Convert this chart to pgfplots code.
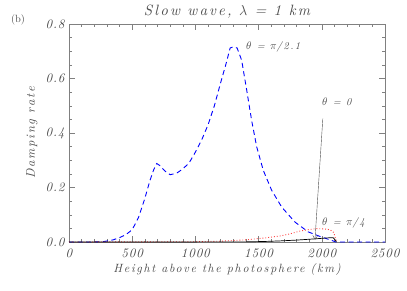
\documentclass[border=0pt]{standalone}
\usepackage{fontspec}
\usepackage{pgfplots}
\pgfplotsset{compat=1.18}
\usetikzlibrary{arrows.meta}
\newfontfamily\idl{lmroman10}[Extension=.otf, UprightFont=*-regular, ItalicFont=*-italic, LetterSpace=14]
\newfontfamily\idlt{lmroman10}[Extension=.otf, UprightFont=*-regular, ItalicFont=*-italic, LetterSpace=6]
\newfontfamily\idlb{lmroman10}[Extension=.otf, UprightFont=*-regular, ItalicFont=*-italic]
\definecolor{txt}{gray}{0.3}
\definecolor{axc}{gray}{0.5}
\begin{document}
\begin{tikzpicture}
\useasboundingbox (-69bp,-49bp) rectangle (338bp,242bp);
\begin{axis}[
  scale only axis, width=316bp, height=218bp,
  at={(0bp,0bp)}, anchor=south west,
  xmin=0, xmax=2500, ymin=0, ymax=0.8,
  xtick={0,500,1000,1500,2000,2500},
  ytick={0,0.2,0.4,0.6,0.8},
  minor x tick num=4, minor y tick num=3,
  tick align=inside, major tick length=6bp, minor tick length=3bp,
  axis line style={axc, line width=0.6pt},
  every tick/.style={axc, line width=0.5pt},
  ticklabel style={font=\idlt\itshape\fontsize{13}{13}\selectfont, text=txt},
  /pgf/number format/assume math mode=true,
  y tick label style={/pgf/number format/.cd, fixed, fixed zerofill, precision=1, /tikz/.cd, xshift=-1bp},
  x tick label style={/pgf/number format/.cd, 1000 sep={}, /tikz/.cd, yshift=-3bp},
  clip=false,
]
\addplot[blue, dashed, line width=0.9pt, dash pattern=on 5bp off 3.5bp] coordinates {
(0,0) (100,0) (200,0) (280,0.002) (350,0.008) (400,0.016) (450,0.027) (500,0.045)
(550,0.09) (600,0.16) (640,0.225) (670,0.265) (694,0.288) (720,0.28) (760,0.26)
(800,0.247) (850,0.252) (900,0.268) (950,0.29) (1000,0.33) (1050,0.375) (1100,0.43)
(1150,0.5) (1200,0.585) (1240,0.65) (1275,0.712) (1300,0.716) (1330,0.712)
(1366,0.667) (1406,0.557) (1445,0.446) (1485,0.349) (1537,0.263) (1603,0.19)
(1683,0.128) (1788,0.073) (1893,0.037) (1999,0.018) (2078,0.006) (2110,0.0)
(2300,0) (2500,0)};
\addplot[red!75, dotted, line width=0.9pt] coordinates {
(0,0) (1000,0.001) (1200,0.003) (1400,0.008) (1550,0.015) (1669,0.022) (1750,0.03)
(1827,0.04) (1900,0.046) (1960,0.049) (2020,0.048) (2065,0.045) (2095,0.035)
(2110,0.01) (2120,0)};
\addplot[black, line width=0.7pt] coordinates {
(0,0) (1400,0.0005) (1550,0.002) (1669,0.004) (1800,0.007) (1960,0.012)
(2040,0.015) (2090,0.016) (2105,0.008) (2115,0)};
\draw[txt, line width=0.4pt, -{Straight Barb[length=4bp,width=5bp]}] (axis cs:2008,0.453) -- (axis cs:1946,0.008);
\end{axis}
\begin{scope}[every node/.style={text=txt, inner sep=0pt}]
\node[font=\idl\itshape\fontsize{15}{15}\selectfont] at (158bp,230bp) {Slow wave, $\lambda$ = 1 km};
\node[font=\idlb\fontsize{10.5}{10.5}\selectfont] at (-51bp,222bp) {(b)};
\node[font=\idl\itshape\fontsize{12.5}{12.5}\selectfont, rotate=90] at (-37bp,109bp) {Damping rate};
\node[font=\idl\itshape\fontsize{12}{12}\selectfont] at (158bp,-28bp) {Height above the photosphere (km)};
\node[font=\idl\itshape\fontsize{10.5}{10.5}\selectfont, anchor=west] at (177bp,195bp) {$\theta$ = $\pi$/2.1};
\node[font=\idl\itshape\fontsize{10.5}{10.5}\selectfont, anchor=west] at (253bp,140bp) {$\theta$ = 0};
\node[font=\idl\itshape\fontsize{10.5}{10.5}\selectfont, anchor=west] at (253bp,19bp) {$\theta$ = $\pi$/4};
\end{scope}
\end{tikzpicture}
\end{document}
